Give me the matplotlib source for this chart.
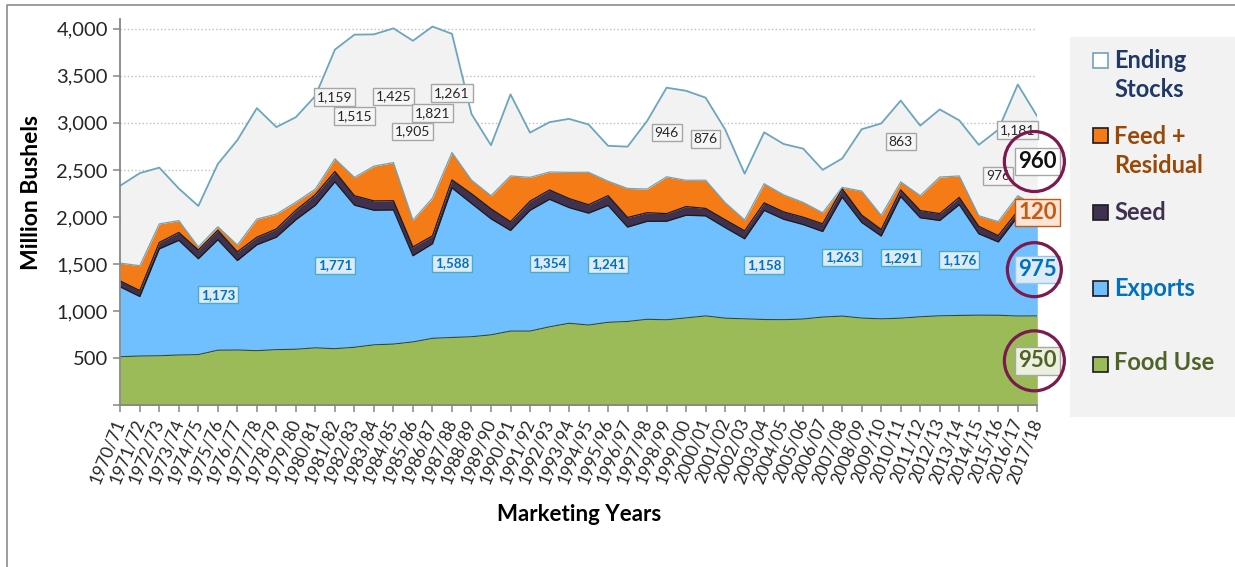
import numpy as np
import matplotlib.pyplot as plt
from matplotlib.patches import Rectangle, Ellipse

plt.rcParams['font.family'] = ['Lato', 'DejaVu Sans']

# marketing years 1970/71 .. 2017/18
start_years = list(range(1970, 2018))
year_labels = [f"{y}/{(y + 1) % 100:02d}" for y in start_years]

# million bushels
food = [517, 524, 527, 535, 539, 586, 588, 581, 592, 596, 611, 602, 617, 643, 651, 674,
        712, 721, 729, 749, 789, 789, 834, 872, 853, 882, 891, 914, 909, 929, 950, 926,
        919, 912, 910, 917, 938, 948, 927, 919, 926, 941, 951, 955, 958, 957, 949, 950]
exports = [741, 632, 1135, 1217, 1018, 1173, 950, 1124, 1194, 1375, 1514, 1771, 1509, 1429, 1424, 915,
           1004, 1588, 1415, 1232, 1068, 1282, 1354, 1228, 1188, 1241, 1002, 1040, 1046, 1090, 1062, 962,
           850, 1158, 1066, 1003, 908, 1263, 1015, 879, 1291, 1051, 1012, 1176, 864, 778, 1055, 975]
seed = [62, 63, 67, 84, 92, 100, 92, 80, 87, 101, 113, 110, 100, 99, 98, 93,
        84, 85, 103, 106, 93, 97, 99, 96, 89, 104, 102, 92, 81, 92, 79, 83,
        84, 80, 78, 78, 82, 88, 78, 69, 71, 76, 73, 77, 79, 67, 61, 63]
feed = [190, 264, 198, 126, 33, 38, 73, 193, 158, 86, 59, 135, 195, 369, 405, 284,
        401, 290, 145, 139, 486, 253, 191, 278, 345, 153, 308, 251, 391, 279, 300, 182,
        116, 203, 181, 157, 117, 16, 255, 150, 85, 159, 388, 228, 113, 149, 161, 120]
stocks = [823, 983, 597, 340, 435, 666, 1113, 1178, 924, 902, 989, 1159, 1515, 1399, 1425, 1905,
          1821, 1261, 702, 536, 866, 475, 529, 568, 507, 376, 444, 722, 946, 950, 876, 777,
          491, 546, 540, 571, 456, 306, 657, 976, 863, 743, 718, 590, 752, 976, 1181, 960]

# which years get a data label, and where the label sits (bushel level)
stock_lbl = {11: 3274, 12: 3070, 14: 3280, 15: 2908, 16: 3104, 17: 3318,
             28: 2897, 30: 2828, 40: 2801, 45: 2437, 46: 2923}
export_lbl = {5: 1175, 11: 1487, 17: 1508, 22: 1508, 25: 1496, 33: 1490,
              37: 1570, 40: 1567, 43: 1543}

x = np.arange(len(start_years))
c1 = np.array(food)
c2 = c1 + np.array(exports)
c3 = c2 + np.array(seed)
c4 = c3 + np.array(feed)
c5 = c4 + np.array(stocks)

W, H = 1235, 567
fig = plt.figure(figsize=(W / 100, H / 100), dpi=100)
ax = fig.add_axes([120.3 / W, 1 - 405.4 / H, 917 / W, 386.2 / H])

green, blue, purple, orange, grey = '#9BBB59', '#70BFFF', '#403151', '#F47B16', '#F2F2F2'
teal = '#6BA5BE'

ax.fill_between(x, 0, c1, color=green, lw=0, zorder=2)
ax.fill_between(x, c1, c2, color=blue, lw=0, zorder=2)
ax.fill_between(x, c2, c3, color=purple, lw=0, zorder=2)
ax.fill_between(x, c3, c4, color=orange, lw=0, zorder=2)
ax.fill_between(x, c4, c5, color=grey, lw=0, zorder=2)
ax.plot(x, c1, color='#3B4A22', lw=0.8, zorder=3)
ax.plot(x, c2, color='#1A1A1A', lw=0.9, zorder=3)
ax.plot(x, c3, color='#1A1A1A', lw=0.9, zorder=3)
ax.plot(x, c4, color=teal, lw=0.9, zorder=3)
ax.plot(x, c5, color=teal, lw=1.3, zorder=3)

ax.set_xlim(0, len(x) - 1)
ax.set_ylim(0, 4100)
yt = np.arange(0, 4001, 500)
ax.set_yticks(yt)
ax.set_yticklabels([''] + [f"{v:,}" for v in yt[1:]], fontsize=14.5, color='#262626')
ax.set_xticks(x)
ax.set_xticklabels(year_labels, rotation=68, ha='right', va='center',
                   rotation_mode='anchor', fontsize=12.5, color='#262626')
ax.tick_params(axis='y', length=5, width=1.1, color='#868686', pad=4)
ax.tick_params(axis='x', length=5, width=1.1, color='#868686', pad=5)
ax.yaxis.grid(True, color='#BFBFBF', ls=':', lw=1)
ax.set_axisbelow(True)
for s in ['top', 'right']:
    ax.spines[s].set_visible(False)
for s in ['left', 'bottom']:
    ax.spines[s].set_color('#868686')
    ax.spines[s].set_linewidth(1.3)
    ax.spines[s].set_zorder(4)

ax.set_ylabel('Million Bushels', fontsize=16.5, fontweight='bold')
ax.yaxis.set_label_coords(-0.085, 0.55)
ax.set_xlabel('Marketing Years', fontsize=16, fontweight='bold')
ax.xaxis.set_label_coords(0.5, -0.255)

for i, yv in stock_lbl.items():
    ax.text(i, yv, f"{stocks[i]:,}", ha='center', va='center', fontsize=10, color='#262626',
            zorder=6, bbox=dict(boxstyle='square,pad=0.2', fc='#F6F6F6', ec='#A6A6A6', lw=1))
for i, yv in export_lbl.items():
    ax.text(i, yv, f"{exports[i]:,}", ha='center', va='center', fontsize=9.6, color='#0070C0',
            fontweight='bold', zorder=6,
            bbox=dict(boxstyle='square,pad=0.2', fc='#DDEBF7', ec='#4BACC6', lw=1))

# latest year call-outs
last = len(x) - 1
big = [(stocks[last], 2589, '#111111', '#FFFFFF', '#A6A6A6'),
       (feed[last], 2048, '#C55A11', '#FCE4D6', '#C55A11'),
       (exports[last], 1441, '#0070C0', '#DDEBF7', '#9DC3E6'),
       (food[last], 473, '#4F6228', '#EBF1DE', '#A6A6A6')]
for val, yv, tc, fc, ec in big:
    ax.text(last, yv, f"{val:,}", ha='center', va='center', fontsize=16, color=tc,
            fontweight='bold', zorder=7, clip_on=False,
            bbox=dict(boxstyle='square,pad=0.15', fc=fc, ec=ec, lw=1))
px_x = 917 / last
px_y = 386.2 / 4100
for yv, r in [(2589, 30), (1441, 27), (473, 30)]:
    ax.add_patch(Ellipse((last - 0.15, yv), 2 * r / px_x, 2 * r / px_y, fill=False,
                         ec='#7B1A4E', lw=2.3, zorder=8, clip_on=False))

# overlay in pixel coordinates: frame and legend
ov = fig.add_axes([0, 0, 1, 1], zorder=-1)
ov.set_xlim(0, W)
ov.set_ylim(H, 0)
ov.axis('off')
ov.plot([7, 7, W], [H, 5, 5], color='#8C8C8C', lw=1.2, clip_on=False)
ov.add_patch(Rectangle((1070, 37), 165, 380, fc='#F2F2F2', ec='none'))
legend = [('Ending\nStocks', 75, 60, 'white', teal, '#1F3864'),
          ('Feed +\nResidual', 151, 135, orange, '#1A1A1A', '#984807'),
          ('Seed', 212, 212, purple, '#1A1A1A', '#403151'),
          ('Exports', 288, 288, blue, '#1A1A1A', '#0070C0'),
          ('Food Use', 363, 364, green, '#1A1A1A', '#4F6228')]
for txt, ty, my, fc, ec, tc in legend:
    ov.add_patch(Rectangle((1093, my - 7.5), 15, 15, fc=fc, ec=ec, lw=1.2))
    ov.text(1114, ty, txt, ha='left', va='center', fontsize=17, fontweight='bold',
            color=tc, linespacing=1.3)

fig.savefig('out.png', dpi=100)
